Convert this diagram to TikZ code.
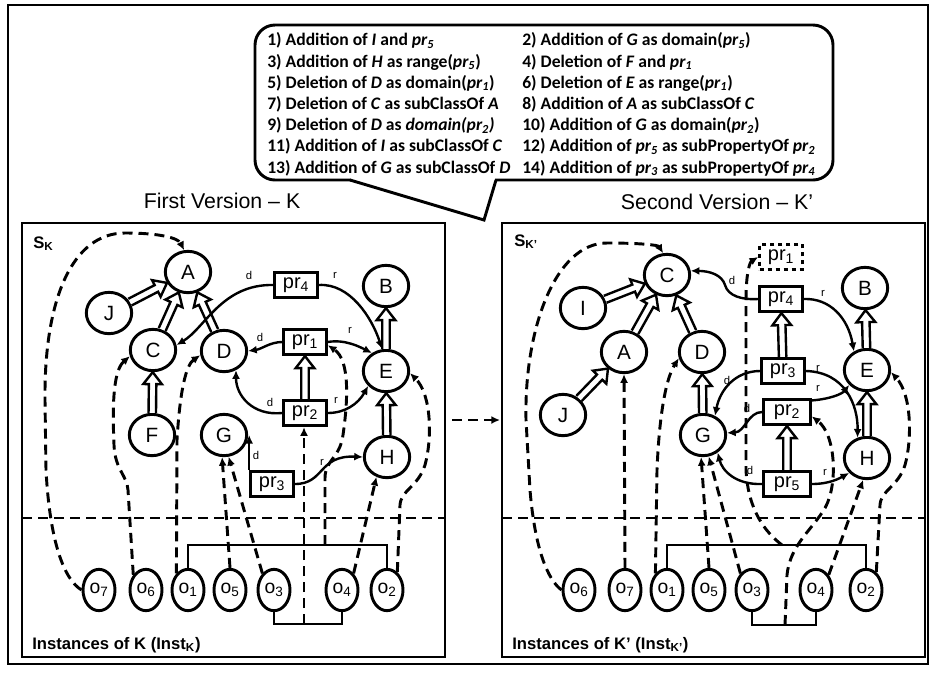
\documentclass[tikz,border=0pt]{standalone}
\usepackage{fontspec}
\setmainfont{Liberation Sans}
\newfontfamily\calib{Carlito}
\usetikzlibrary{shapes.geometric,calc,arrows.meta}
\newcommand\harr[2]{%
  \path (#1) -- (#2) coordinate[pos=0] (hT) coordinate[pos=1] (hH);
  \coordinate (hM) at ($(hH)!9pt!(hT)$);
  \draw[harrow] ($(hT)!2.8pt!90:(hH)$) -- ($(hM)!2.8pt!-90:(hT)$) -- ($(hM)!7pt!-90:(hT)$) -- (hH) -- ($(hM)!7pt!90:(hT)$) -- ($(hM)!2.8pt!90:(hT)$) -- ($(hT)!2.8pt!-90:(hH)$);
}
\begin{document}
\begin{tikzpicture}[x=0.75pt,y=-0.75pt,
 cls/.style={ellipse, draw, line width=2.2pt, minimum width=34pt, minimum height=31pt, inner sep=0pt, fill=white, font=\fontsize{15.5}{18}\selectfont},
 prop/.style={rectangle, draw, line width=2.2pt, minimum width=32pt, minimum height=19pt, inner sep=0pt, fill=white, font=\fontsize{15}{18}\selectfont},
 inst/.style={ellipse, draw, line width=2.2pt, minimum width=24pt, minimum height=31pt, inner sep=0pt, fill=white, font=\fontsize{14.5}{17}\selectfont},
 conn/.style={line width=1.8pt, -{Latex[length=6.5pt,width=6pt]}},
 dsh/.style={line width=2.2pt, dash pattern=on 7.5pt off 4.5pt, -{Latex[length=6.5pt,width=6pt]}},
 dline/.style={line width=2.2pt, dash pattern=on 7.5pt off 4.5pt},
 lbl/.style={font=\fontsize{8.5}{10}\selectfont, inner sep=0pt},
 harrow/.style={draw, line width=1.8pt, fill=white, line join=miter},
 brk/.style={line width=1pt},
 frm/.style={line width=2.2pt},
 ctxt/.style={anchor=base west, inner sep=0pt, font=\calib\bfseries\fontsize{13.2}{15}\selectfont},
 ttl/.style={anchor=base, inner sep=0pt, font=\fontsize{16}{18}\selectfont},
 sk/.style={anchor=base west, inner sep=0pt, font=\bfseries\fontsize{12.5}{14}\selectfont},
]
\useasboundingbox (0,0) rectangle (931,672);
% outer frame
\draw[frm] (8,5) rectangle (928,664);
% callout
\draw[frm, rounded corners=15pt] (255,25) rectangle (833,180);
\fill[white] (351,178) rectangle (495,183);
\coordinate (tailA) at (350,180);
\coordinate (tailT) at (484,220);
\coordinate (tailB) at (496,180);
\draw[frm, line join=miter] (tailA) -- (tailT) -- (tailB);
\node[ctxt] at (267,45.7) {1) Addition of \textit{I} and \textit{pr\textsubscript{5}}};
\node[ctxt] at (267,67) {3) Addition of \textit{H} as range(\textit{pr\textsubscript{5}})};
\node[ctxt] at (267,88.2) {5) Deletion of \textit{D} as domain(\textit{pr\textsubscript{1}})};
\node[ctxt] at (267,109.4) {7) Deletion of \textit{C} as subClassOf \textit{A}};
\node[ctxt] at (267,130.6) {9) Deletion of \textit{D} as \textit{domain(pr\textsubscript{2})}};
\node[ctxt] at (267,151.8) {11) Addition of \textit{I} as subClassOf \textit{C}};
\node[ctxt] at (267,173) {13) Addition of \textit{G} as subClassOf \textit{D}};
\node[ctxt] at (522,45.7) {2) Addition of \textit{G} as domain(\textit{pr\textsubscript{5}})};
\node[ctxt] at (522,67) {4) Deletion of \textit{F} and \textit{pr\textsubscript{1}}};
\node[ctxt] at (522,88.2) {6) Deletion of \textit{E} as range(\textit{pr\textsubscript{1}})};
\node[ctxt] at (522,109.4) {8) Addition of \textit{A} as subClassOf \textit{C}};
\node[ctxt] at (522,130.6) {10) Addition of \textit{G} as domain(\textit{pr\textsubscript{2}})};
\node[ctxt] at (522,151.8) {12) Addition of \textit{pr\textsubscript{5}} as subPropertyOf \textit{pr\textsubscript{2}}};
\node[ctxt] at (522,173) {14) Addition of \textit{pr\textsubscript{3}} as subPropertyOf \textit{pr\textsubscript{4}}};
% titles
\node[ttl] (t1) at (222,208) {First Version -- K};
\node[ttl] (t2) at (717,209.5) {Second Version -- K’};
% panels
\draw[frm] (22,223) rectangle (445,657);
\draw[frm] (502,223) rectangle (925,657);
\draw[dline] (22,518) -- (445,518);
\draw[dline] (502,518) -- (925,518);
\node[sk] at (33,248) {S\textsubscript{K}};
\node[sk] at (514,246) {S\textsubscript{K’}};
\node[sk] at (32,649) {Instances of K (Inst\textsubscript{K})};
\node[sk] at (512,649) {Instances of K’ (Inst\textsubscript{K’})};
\coordinate (mvA) at (452,420);
\coordinate (mvB) at (500,420);
\draw[dsh] (mvA) -- (mvB);

%%%%%%%%%%%% LEFT PANEL
\node[cls] (LA) at (188,272) {A};
\node[cls] (LJ) at (109,313) {J};
\node[cls] (LC) at (153,350) {C};
\node[cls] (LD) at (224,351) {D};
\node[cls] (LB) at (386,286) {B};
\node[cls] (LE) at (386,371) {E};
\node[cls] (LF) at (152,435) {F};
\node[cls] (LG) at (224,435) {G};
\node[cls] (LH) at (387,457) {H};
\node[prop] (Lp4) at (296,285) {pr\textsubscript{4}};
\node[prop] (Lp1) at (305,342) {pr\textsubscript{1}};
\node[prop] (Lp2) at (305,413) {pr\textsubscript{2}};
\node[prop] (Lp3) at (272,484) {pr\textsubscript{3}};
\node[inst] (Lo7) at (99,590) {o\textsubscript{7}};
\node[inst] (Lo6) at (146,590) {o\textsubscript{6}};
\node[inst] (Lo1) at (188,590) {o\textsubscript{1}};
\node[inst] (Lo5) at (230,590) {o\textsubscript{5}};
\node[inst] (Lo3) at (274,590) {o\textsubscript{3}};
\node[inst] (Lo4) at (342,590) {o\textsubscript{4}};
\node[inst] (Lo2) at (387,590) {o\textsubscript{2}};
% brackets
\coordinate (Ltop) at (0,545);
\coordinate (Lbot) at (0,624);
\draw[brk] (Lo1.north) -- (Lo1.north |- Ltop) -- (Lo2.north |- Ltop) -- (Lo2.north);
\draw[brk] (Lo3.south) -- (Lo3.south |- Lbot) -- (Lo4.south |- Lbot) -- (Lo4.south);
\coordinate (Lbm) at (304,624);
\coordinate (Ltm) at (325,545);
% hollow arrows
\harr{LJ}{LA}
\harr{LC}{LA}
\harr{LD}{LA}
\harr{LF}{LC}
\harr{LE}{LB}
\harr{LH}{LE}
\harr{Lp2}{Lp1}
% domain / range
\draw[conn] (Lp4.west) .. controls (222,284) and (205,328) .. (LC.12);
\draw[conn] (Lp4.east) .. controls (350,283) and (372,318) .. (LE.100);
\draw[conn] (Lp1.west) .. controls (270,342) and (262,349) .. (LD.east);
\draw[conn] (Lp1.east) .. controls (345,339) and (360,347) .. (LE.128);
\draw[conn] (Lp2.west) .. controls (252,416) and (236,395) .. (LD.-58);
\draw[conn] (Lp2.east) .. controls (345,413) and (358,404) .. (LE.-140);
\draw[conn] (Lp3.north west) -- (Lp3.north west |- LG.east);
\draw[conn] (Lp3.east) .. controls (325,484) and (318,455) .. (LH.west);
\node[lbl] (Ld4) at (249,275) {d};
\node[lbl] (Lr4) at (335,275) {r};
\node[lbl] (Ld1) at (260,337) {d};
\node[lbl] (Lr1) at (350,330) {r};
\node[lbl] (Ld2) at (270,402) {d};
\node[lbl] (Lr2) at (336,400) {r};
\node[lbl] (Ld3) at (256,455) {d};
\node[lbl] (Lr3) at (322,462) {r};
% instance links
\draw[dsh] (Lo7.west) .. controls (65,580) and (50,545) .. (46,470) -- (45,400) .. controls (44,300) and (72,233) .. (125,233) .. controls (160,233) and (178,238) .. (LA.100);
\draw[dsh] (Lo6.130) -- (128,490) .. controls (127,475) and (115,470) .. (114,445) .. controls (112,400) and (114,370) .. (LC.195);
\draw[dsh] (Lo1.125) -- (177,440) .. controls (180,390) and (186,365) .. (LD.190);
\draw[dsh] (Lo5.north) -- (LG.-95);
\draw[dsh] (Lo3.125) -- (LG.-78);
\draw[dsh] (Lbm) -- (Lbm |- Lp2.south);
\draw[dsh] (Ltm) -- (325,478) .. controls (325,460) and (340,458) .. (343,435) .. controls (348,400) and (350,360) .. (Lp1.-8);
\draw[dsh] (Lo4.55) -- (LH.-118);
\draw[dsh] (Lo2.60) -- (400,505) .. controls (401,490) and (418,487) .. (425,465) .. controls (432,440) and (432,395) .. (LE.-5);

%%%%%%%%%%%% RIGHT PANEL
\node[cls] (RC) at (667,275) {C};
\node[cls] (RI) at (583,308) {I};
\node[cls] (RA) at (624,352) {A};
\node[cls] (RD) at (702,352) {D};
\node[cls] (RJ) at (563,415) {J};
\node[cls] (RG) at (703,435) {G};
\node[cls] (RB) at (865,288) {B};
\node[cls] (RE) at (867,370) {E};
\node[cls] (RH) at (867,458) {H};
\node[prop, dashed] (Rp1) at (781,257) {pr\textsubscript{1}};
\node[prop] (Rp4) at (781,299) {pr\textsubscript{4}};
\node[prop] (Rp3) at (783,371) {pr\textsubscript{3}};
\node[prop, minimum width=35pt] (Rp2) at (787,412) {pr\textsubscript{2}};
\node[prop, minimum width=35pt] (Rp5) at (787,484) {pr\textsubscript{5}};
\node[inst] (Ro6) at (579,590) {o\textsubscript{6}};
\node[inst] (Ro7) at (625,590) {o\textsubscript{7}};
\node[inst] (Ro1) at (667,590) {o\textsubscript{1}};
\node[inst] (Ro5) at (709,590) {o\textsubscript{5}};
\node[inst] (Ro3) at (752,590) {o\textsubscript{3}};
\node[inst] (Ro4) at (816,590) {o\textsubscript{4}};
\node[inst] (Ro2) at (866,590) {o\textsubscript{2}};
\coordinate (Rtop) at (0,545);
\coordinate (Rbot) at (0,625);
\draw[brk] (Ro1.north) -- (Ro1.north |- Rtop) -- (Ro2.north |- Rtop) -- (Ro2.north);
\draw[brk] (Ro3.south) -- (Ro3.south |- Rbot) -- (Ro4.south |- Rbot) -- (Ro4.south);
\coordinate (Rbm) at (785,625);
\coordinate (Rtm) at (782,545);
% hollow arrows
\harr{RI}{RC}
\harr{RA}{RC}
\harr{RD}{RC}
\harr{RJ}{RA}
\harr{RG}{RD}
\harr{Rp3}{Rp4}
\harr{Rp5}{Rp2}
\harr{RE}{RB}
\harr{RH}{RE}
% domain / range
\draw[conn] (Rp4.west) .. controls (742,300) and (728,296) .. (725,285) .. controls (722,275) and (710,271) .. (RC.10);
\draw[conn] (Rp4.east) .. controls (830,298) and (848,318) .. (RE.125);
\draw[conn] (Rp3.west) .. controls (735,371) and (720,390) .. (RG.58);
\draw[conn] (Rp3.east) .. controls (845,372) and (858,405) .. (RH.115);
\draw[conn] (Rp2.25) .. controls (830,399) and (842,394) .. (RE.-140);
\draw[conn] (Rp2.west) .. controls (748,412) and (745,432) .. (RG.5);
\draw[conn] (Rp5.west) .. controls (735,485) and (722,470) .. (RG.-50);
\draw[conn] (Rp5.east) .. controls (830,484) and (840,478) .. (RH.-140);
\node[lbl] (Rd4) at (732,280) {d};
\node[lbl] (Rr4) at (823,293) {r};
\node[lbl] (Rd3) at (727,380) {d};
\node[lbl] (Rr3) at (818,368) {r};
\node[lbl] (Rr2) at (818,388) {r};
\node[lbl] (Rd2) at (747,408) {d};
\node[lbl] (Rd5) at (750,470) {d};
\node[lbl] (Rr5) at (825,472) {r};
% instance links
\draw[dsh] (Ro6.west) .. controls (548,580) and (535,550) .. (530,490) -- (526,420) .. controls (524,330) and (555,243) .. (607,243) .. controls (640,243) and (658,245) .. (RC.100);
\draw[dsh] (Ro7.north) -- (RA.south);
\draw[dsh] (Ro1.125) -- (657,470) .. controls (659,420) and (665,380) .. (RD.195);
\draw[dsh] (Ro5.north) -- (RG.-95);
\draw[dsh] (Ro3.125) -- (RG.-75);
\draw[dsh] (Rbm) -- (787,575) .. controls (790,545) and (812,530) .. (825,508) .. controls (838,485) and (836,435) .. (Rp2.-10);
\draw[dsh] (Rtm) .. controls (765,532) and (748,510) .. (746,470) -- (746,300) .. controls (746,272) and (750,262) .. (Rp1.west);
\draw[dsh] (Ro4.50) -- (RH.-100);
\draw[dsh] (Ro2.60) -- (880,505) .. controls (881,490) and (898,487) .. (905,465) .. controls (912,440) and (912,395) .. (RE.-5);
\end{tikzpicture}
\end{document}
